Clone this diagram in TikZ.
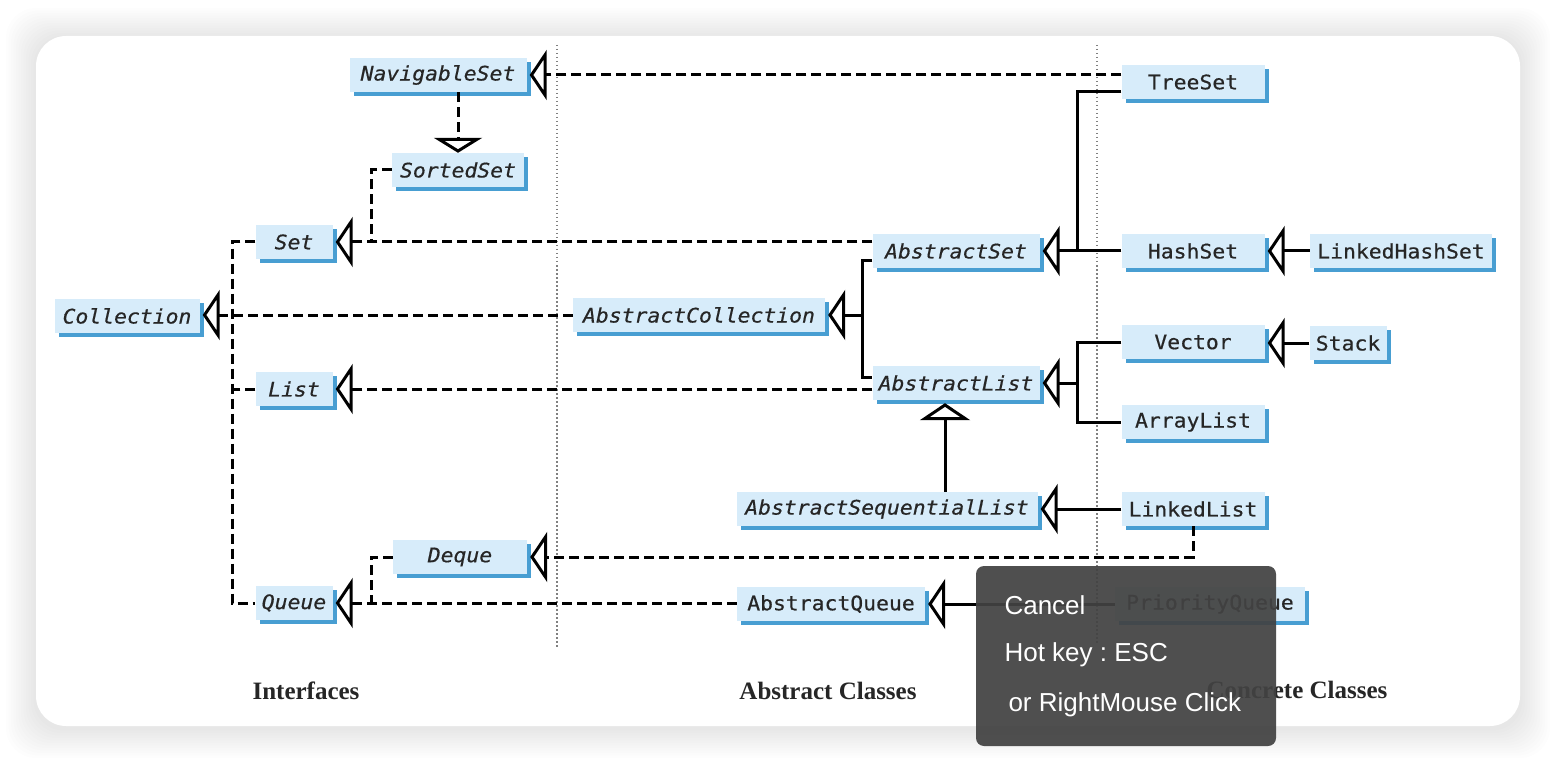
\documentclass[tikz,border=0pt]{standalone}
\usepackage{fontspec}
\usepackage{tikz}
\usetikzlibrary{arrows.meta}
\usetikzlibrary{shadows}
\usetikzlibrary{calc}
\newfontfamily\boxfont[FakeStretch=1.07,FakeBold=0.5]{DejaVu Sans Mono}
\newfontfamily\labfont{Liberation Serif}
\newfontfamily\tipfont{Liberation Sans}
\definecolor{boxfill}{RGB}{215,236,250}
\definecolor{boxshade}{RGB}{72,158,210}
\definecolor{tipbg}{RGB}{66,66,66}

\begin{document}
\begin{tikzpicture}[x=1pt,y=-1pt,
  cls/.style={fill=boxfill, minimum height=34pt, inner sep=2pt, text=black!85,
    font=\boxfont\fontsize{20}{24}\selectfont,
    drop shadow={shadow xshift=4pt, shadow yshift=-4pt, fill=boxshade, opacity=1}},
  iface/.style={cls, font=\boxfont\itshape\fontsize{20}{24}\selectfont},
  iline/.style={line width=3pt, dash pattern=on 10pt off 5pt},
  cline/.style={line width=3pt},
  inh/.style={-{Triangle[open, length=17pt, width=50pt, line width=3pt, sep=3pt]}},
  inhd/.style={-{Triangle[open, length=15pt, width=48pt, line width=3pt]}},
  sepline/.style={gray, line width=1.2pt, dash pattern=on 1.5pt off 2.5pt},
  lab/.style={font=\labfont\bfseries\fontsize{25}{30}\selectfont, text=black!85},
  tiptext/.style={font=\tipfont\fontsize{26}{31}\selectfont\frenchspacing, text=white!92, anchor=west}]
\useasboundingbox (0,0) rectangle (1556,762);
% page and card
\fill[white] (0,0) rectangle (1556,762);
\foreach \i in {1,...,12}
  \fill[black, opacity=0.007, rounded corners=30pt] (36-\i*2.5,36-\i*2.5+2) rectangle (1520+\i*2.5,726+\i*2.5+2);
\fill[white, rounded corners=30pt] (36,36) rectangle (1520,726);
% separators
\draw[sepline] (557,45) -- (557,648);
\draw[sepline] (1097,45) -- (1097,645);
% interfaces
\node at (438,75) [iface, minimum width=177pt] (NS) {NavigableSet};
\node at (458,170) [iface, minimum width=132pt] (SS) {SortedSet};
\node at (294,242) [iface, minimum width=77pt] (Set) {Set};
\node at (127,316) [iface, minimum width=145pt] (Coll) {Collection};
\node at (294,389) [iface, minimum width=77pt] (List) {List};
\node at (460,557) [iface, minimum width=134pt] (Deq) {Deque};
\node at (294,603) [iface, minimum width=77pt] (Que) {Queue};
% abstract classes
\node at (956,251) [iface, minimum width=167pt] (ASet) {AbstractSet};
\node at (699,315) [iface, minimum width=252pt] (ACol) {AbstractCollection};
\node at (956,383) [iface, minimum width=167pt] (AList) {AbstractList};
\node at (887,509) [iface, minimum width=301pt] (ASL) {AbstractSequentialList};
\node at (831,604) [cls, minimum width=188pt] (AQue) {AbstractQueue};
% concrete classes
\node at (1193,82) [cls, minimum width=143pt] (TS) {TreeSet};
\node at (1193,251) [cls, minimum width=143pt] (HS) {HashSet};
\node at (1401,251) [cls, minimum width=182pt] (LHS) {LinkedHashSet};
\node at (1193,342) [cls, minimum width=143pt] (Vec) {Vector};
\node at (1348,343) [cls, minimum width=77pt] (Stk) {Stack};
\node at (1193,422) [cls, minimum width=143pt] (AL) {ArrayList};
\node at (1193,509) [cls, minimum width=143pt] (LL) {LinkedList};
\node at (1210,604) [cls, minimum width=190pt] (PQ) {PriorityQueue};
% junctions
\coordinate (IS) at (232,316);
\coordinate (SB) at (371,242);
\coordinate (QB) at (371,603);
\coordinate (AB) at (862,315);
\coordinate (TB) at (1077,251);
\coordinate (VB) at (1077,383);
% interface links
\draw[iline,inh] (TS.west |- NS.east) -- (NS.east);
\draw[iline,inhd] (SS.north |- NS.south) -- (SS.north);
\draw[iline] (SS.west) -| (SB);
\draw[iline,inh] (ASet.west |- Set.east) -- (Set.east);
\draw[iline] (Set.west) -| (IS) |- (Que.west);
\draw[iline] (List.west) -- (List.west -| IS);
\draw[iline,inh] (ACol.west) -- (ACol.west -| Coll.east);
\draw[iline,inh] (AList.west |- List.east) -- (List.east);
\draw[iline,inh] (LL.south) |- (Deq.east);
\draw[iline] (Deq.west) -| (QB);
\draw[iline,inh] (AQue.west |- Que.east) -- (Que.east);
% class links
\draw[cline] ($(TS.west)+(0,10)$) -| (TB);
\draw[cline,inh] (HS.west) -- (ASet.east);
\draw[cline,inh] (LHS.west) -- (HS.east);
\draw[cline] ($(ASet.west)+(0,10)$) -| (AB) |- ($(AList.west)+(0,-6)$);
\draw[cline,inh] (AB) -- (ACol.east);
\draw[cline] (Vec.west) -| (VB) |- (AL.west);
\draw[cline,inh] (VB) -- (AList.east);
\draw[cline,inh] (Stk.west) -- (Stk.west -| Vec.east);
\draw[cline,inh] ($(ASL.north -| AList.south)+(-11,0)$) -- ($(AList.south)+(-11,0)$);
\draw[cline,inh] (LL.west) -- (ASL.east);
\draw[cline,inh] (PQ.west) -- (PQ.west -| AQue.east);
% column titles
\node at (306,691) [lab] (TI) {Interfaces};
\node at (828,691) [lab] (TA) {Abstract Classes};
\node at (1297,690) [lab] (TC) {Concrete Classes};
% tooltip
\fill[tipbg, opacity=0.93, rounded corners=8pt] (976,566) rectangle (1276,746);
\node at (1001,605) [tiptext] (T1) {Cancel};
\node at (1001,655) [tiptext] (T2) {Hot key : ESC};
\node at (1005,705) [tiptext] (T3) {or RightMouse Click};
\end{tikzpicture}
\end{document}
